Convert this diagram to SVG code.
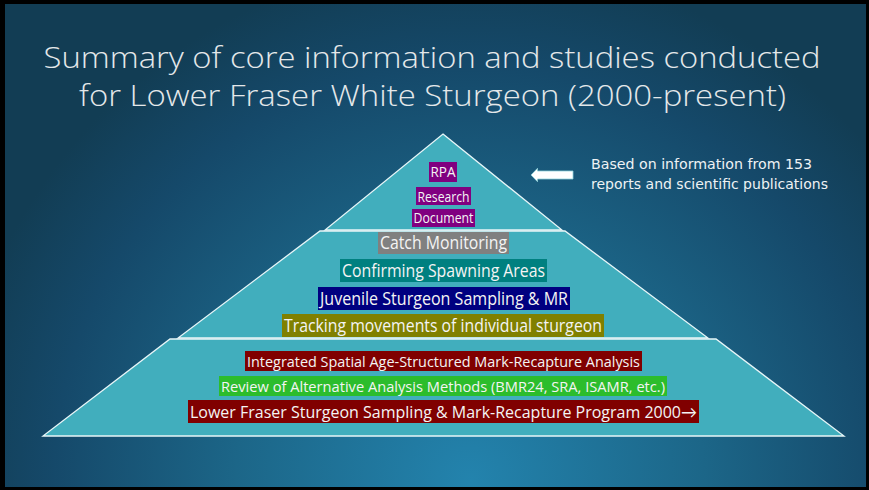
<svg xmlns="http://www.w3.org/2000/svg" width="869" height="490" viewBox="0 0 869 490">
  <defs>
    <radialGradient id="bg" gradientUnits="userSpaceOnUse" cx="470" cy="480" r="520">
      <stop offset="0" stop-color="#2383ad"/>
      <stop offset="0.45" stop-color="#1c6688"/>
      <stop offset="0.8" stop-color="#15496a"/>
      <stop offset="1" stop-color="#123d54"/>
    </radialGradient>
    <style>
      .tier { fill: #41aebd; stroke: #e8f6f8; stroke-width: 1.3; }
      .lbl { font-family: "Open Sans", "Lato", sans-serif; fill: #f4f4f4; text-anchor: middle; }
      .title { font-family: "Open Sans", "Lato", sans-serif; font-weight: 300; fill: #e4e8ea; font-size: 29px; text-anchor: middle; }
      .note { font-family: "DejaVu Sans", "Liberation Sans", sans-serif; fill: #eef2f4; font-size: 14px; }
    </style>
  </defs>

  <rect x="0" y="0" width="869" height="490" fill="#000"/>
  <rect x="5" y="4" width="861" height="483" fill="url(#bg)"/>

  <g id="title">
    <text class="title" x="432" y="68" textLength="777" lengthAdjust="spacingAndGlyphs">Summary of core information and studies conducted</text>
    <text class="title" x="432.5" y="106" textLength="707" lengthAdjust="spacingAndGlyphs">for Lower Fraser White Sturgeon (2000-present)</text>
  </g>

  <g id="tier-top">
    <polygon class="tier" points="443,134 562,230 325,230"/>
    <rect x="429" y="162" width="28" height="20" fill="#800080"/>
    <text class="lbl" x="443" y="176.7" font-size="14" textLength="25" lengthAdjust="spacingAndGlyphs">RPA</text>
    <rect x="416" y="187" width="55" height="18" fill="#800080"/>
    <text class="lbl" x="443.5" y="201.7" font-size="14" textLength="52" lengthAdjust="spacingAndGlyphs">Research</text>
    <rect x="412" y="209" width="63" height="18" fill="#800080"/>
    <text class="lbl" x="443.5" y="223.3" font-size="14" textLength="60" lengthAdjust="spacingAndGlyphs">Document</text>
  </g>

  <g id="tier-middle">
    <polygon class="tier" points="320,231 565,231 708,338 178,338"/>
    <rect x="378" y="232" width="131" height="22" fill="#808080"/>
    <text class="lbl" x="443.5" y="249.3" font-size="17.5" textLength="127" lengthAdjust="spacingAndGlyphs">Catch Monitoring</text>
    <rect x="340" y="259" width="207" height="23" fill="#008080"/>
    <text class="lbl" x="443.5" y="277.3" font-size="17.5" textLength="203" lengthAdjust="spacingAndGlyphs">Confirming Spawning Areas</text>
    <rect x="318" y="287" width="252" height="23" fill="#000080"/>
    <text class="lbl" x="444" y="305" font-size="17.5" textLength="248" lengthAdjust="spacingAndGlyphs">Juvenile Sturgeon Sampling &amp; MR</text>
    <rect x="282" y="314" width="322" height="23" fill="#808000"/>
    <text class="lbl" x="443" y="332.3" font-size="17.5" textLength="318" lengthAdjust="spacingAndGlyphs">Tracking movements of individual sturgeon</text>
  </g>

  <g id="tier-bottom">
    <polygon class="tier" points="170,339 716,339 844,436 43,436"/>
    <rect x="245" y="351" width="397" height="20" fill="#800000"/>
    <text class="lbl" x="443.5" y="367.3" font-size="15" textLength="393" lengthAdjust="spacingAndGlyphs">Integrated Spatial Age-Structured Mark-Recapture Analysis</text>
    <rect x="219" y="376" width="448" height="20" fill="#2cbd2c"/>
    <text class="lbl" x="443" y="392.3" font-size="15" textLength="444" lengthAdjust="spacingAndGlyphs">Review of Alternative Analysis Methods (BMR24, SRA, ISAMR, etc.)</text>
    <rect x="188" y="400" width="511" height="23" fill="#800000"/>
    <text class="lbl" x="443.5" y="417.7" font-size="16.5" textLength="507" lengthAdjust="spacingAndGlyphs">Lower Fraser Sturgeon Sampling &amp; Mark-Recapture Program 2000→</text>
  </g>

  <g id="note-arrow">
    <polygon points="531,175 537.5,168.3 537.5,171 573,171 573,179 537.5,179 537.5,181.7" fill="#ffffff" stroke="#8fd3dc" stroke-width="0.8"/>
  </g>

  <g id="note">
    <text class="note" x="591" y="169" textLength="221" lengthAdjust="spacingAndGlyphs">Based on information from 153</text>
    <text class="note" x="591" y="189" textLength="237" lengthAdjust="spacingAndGlyphs">reports and scientific publications</text>
  </g>
</svg>
